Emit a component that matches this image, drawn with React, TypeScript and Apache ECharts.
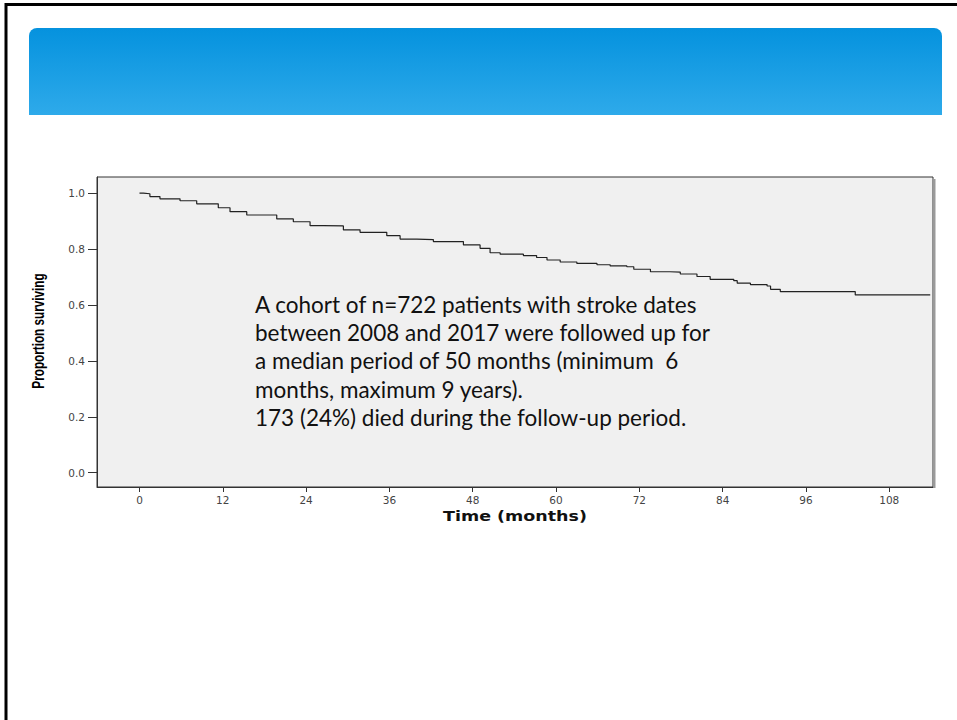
import React, { useEffect, useRef } from "react";
import * as echarts from "echarts";

const months = [0, 0.55, 1.5, 2.95, 5.84, 8.24, 11.35, 13.04, 15.45, 19.77, 22.16, 24.57, 26.48, 29.37, 31.77, 35.62, 37.54, 39.94, 42.33, 46.66, 49.06, 50.5, 51.95, 55.3, 57.2, 58.7, 60.6, 63.0, 65.9, 67.8, 70.2, 71.2, 73.6, 76.4, 77.9, 80.3, 82.2, 85.6, 86.1, 88.0, 90.4, 90.9, 92.3, 103.1, 113.9];
const survival = [1.0, 0.998, 0.988, 0.98, 0.973, 0.962, 0.948, 0.934, 0.922, 0.908, 0.898, 0.884, 0.883, 0.869, 0.86, 0.848, 0.836, 0.834, 0.827, 0.815, 0.803, 0.787, 0.782, 0.777, 0.77, 0.761, 0.754, 0.749, 0.744, 0.74, 0.737, 0.728, 0.719, 0.718, 0.711, 0.702, 0.692, 0.687, 0.678, 0.673, 0.668, 0.656, 0.648, 0.636, 0.636];
const xTicks = [0, 12, 24, 36, 48, 60, 72, 84, 96, 108];
const yTicks = [0, 0.2, 0.4, 0.6, 0.8, 1.0];
const yAxisTitle = "Proportion surviving";
const xAxisTitle = "Time (months)";
const annotationLines = [
  "A cohort of n=722 patients with stroke dates",
  "between 2008 and 2017 were followed up for",
  "a median period of 50 months (minimum  6",
  "months, maximum 9 years).",
  "173 (24%) died during the follow-up period.",
];

export default function App() {
  const ref = useRef<HTMLDivElement>(null);
  useEffect(() => {
    if (!ref.current) return;
    const chart = echarts.init(ref.current, null, { renderer: "svg" });
    const data = months.map((m, i) => [m, survival[i]]);
    chart.setOption({
      animation: false,
      backgroundColor: "#ffffff",
      grid: {
        left: 97,
        top: 177,
        width: 836,
        height: 310,
        show: true,
        backgroundColor: "#f0f0f0",
        borderColor: "#333",
        borderWidth: 1,
      },
      xAxis: {
        type: "value",
        min: -6.12,
        max: 114.3,
        axisLine: { show: true, onZero: false, lineStyle: { color: "#333", width: 1 } },
        splitLine: { show: false },
        axisTick: { show: true, customValues: xTicks, length: 5, lineStyle: { color: "#333" } },
        axisLabel: {
          customValues: xTicks,
          fontFamily: "DejaVu Sans",
          fontSize: 10.5,
          color: "#444",
          margin: 7,
        },
      },
      yAxis: {
        type: "value",
        min: -0.051,
        max: 1.058,
        axisLine: { show: true, onZero: false, lineStyle: { color: "#333", width: 1 } },
        splitLine: { show: false },
        axisTick: { show: true, customValues: yTicks, length: 9, lineStyle: { color: "#333" } },
        axisLabel: {
          customValues: yTicks,
          formatter: (v: number) => v.toFixed(1),
          fontFamily: "DejaVu Sans",
          fontSize: 10.5,
          color: "#444",
          margin: 12,
        },
      },
      series: [
        {
          type: "line",
          step: "end",
          showSymbol: false,
          data,
          lineStyle: { color: "#222", width: 1.2 },
        },
      ],
      graphic: [
        {
          type: "polyline",
          shape: { points: [[6, 720], [6, 4.5], [957, 4.5]] },
          style: { stroke: "#000", lineWidth: 3, fill: null },
          z: 10,
        },
        {
          type: "rect",
          shape: { x: 29, y: 28, width: 913, height: 87, r: [8, 8, 0, 0] },
          style: {
            fill: new echarts.graphic.LinearGradient(0, 0, 0, 1, [
              { offset: 0, color: "#0592de" },
              { offset: 1, color: "#2eaaea" },
            ]),
          },
        },
        {
          type: "line",
          shape: { x1: 934.5, y1: 179, x2: 934.5, y2: 488 },
          style: { stroke: "#9a9a9a", lineWidth: 2 },
        },
        {
          type: "text",
          x: 38,
          y: 331,
          rotation: Math.PI / 2,
          scaleX: 0.69,
          style: {
            text: yAxisTitle,
            font: "bold 17px 'Liberation Sans', Arial, sans-serif",
            fill: "#000",
            align: "center",
            verticalAlign: "middle",
          },
        },
        {
          type: "text",
          x: 515,
          y: 516,
          scaleX: 1.25,
          style: {
            text: xAxisTitle,
            font: "bold 14px 'DejaVu Sans', sans-serif",
            fill: "#111",
            align: "center",
            verticalAlign: "middle",
          },
        },
        {
          type: "text",
          x: 255,
          y: 290,
          z: 20,
          style: {
            text: annotationLines.join("\n"),
            font: "22.5px Lato",
            fill: "#111",
            lineHeight: 28.3,
            verticalAlign: "top",
          },
        },
      ],
    });
    return () => chart.dispose();
  }, []);
  return <div ref={ref} style={{ position: "absolute", left: 0, top: 0, width: 957, height: 720 }} />;
}
